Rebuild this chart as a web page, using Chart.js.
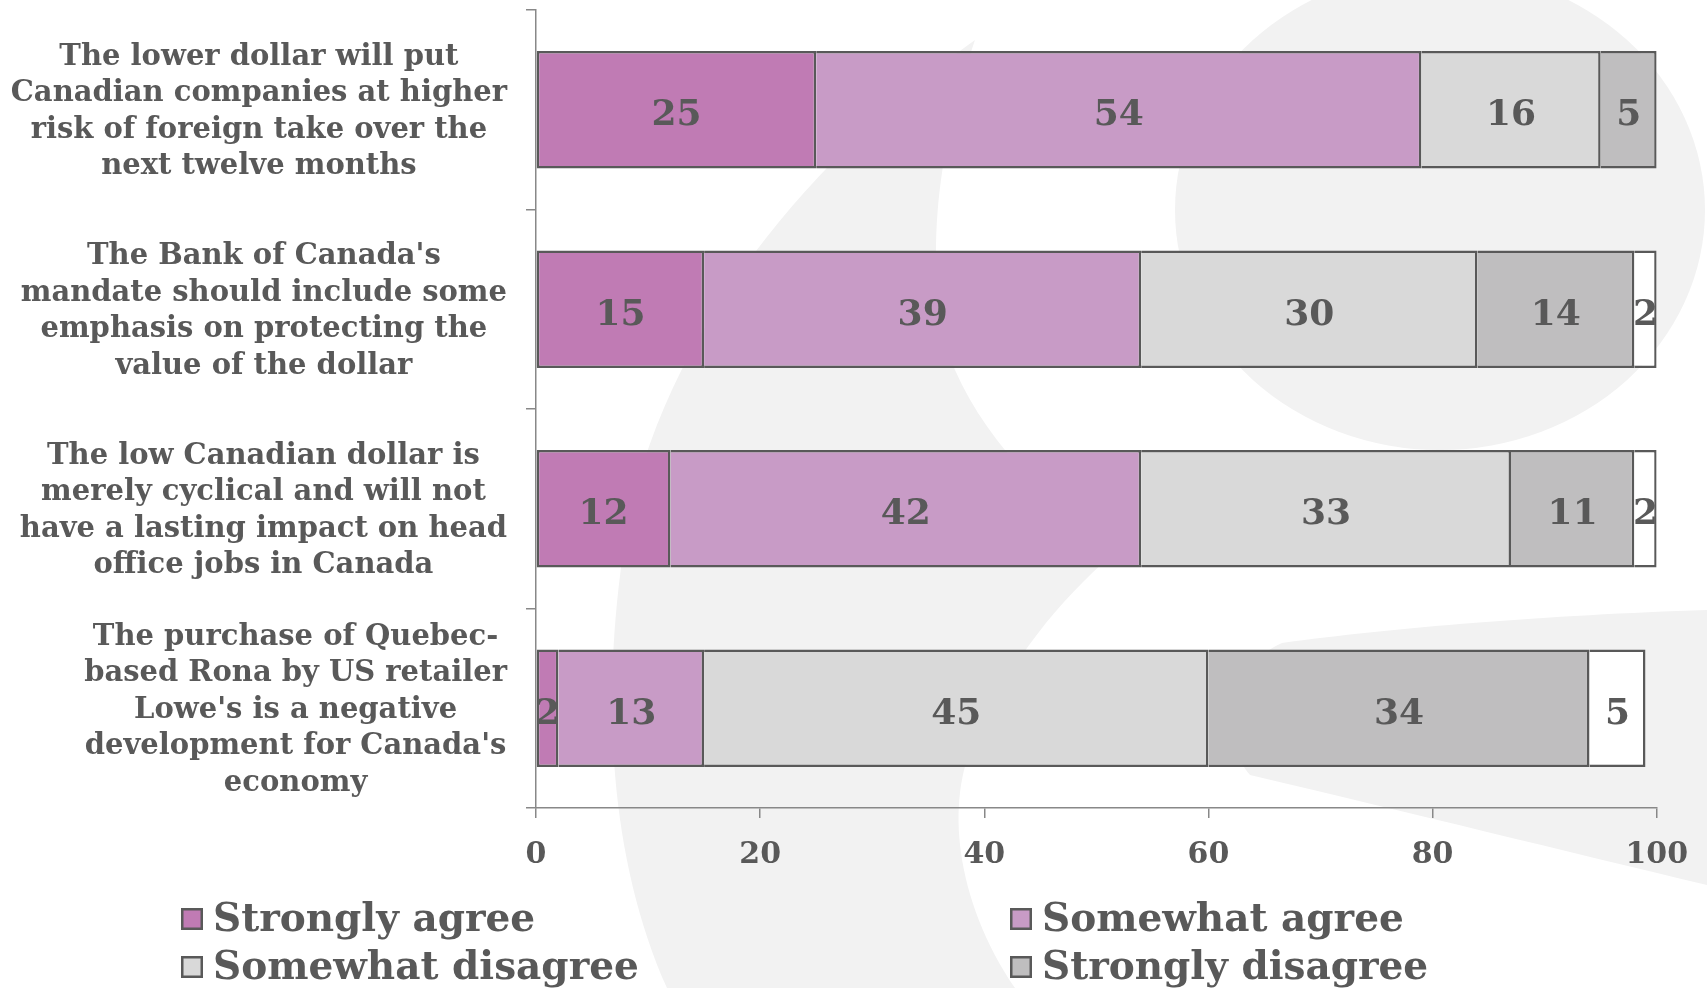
<!DOCTYPE html>
<html>
<head>
<meta charset="utf-8">
<script src="https://cdn.jsdelivr.net/npm/chart.js@4.4.1/dist/chart.umd.min.js"></script>
<style>
  html, body { margin: 0; padding: 0; background: #fff; }
</style>
</head>
<body>
<canvas id="chart" width="1707" height="988"></canvas>
<script>
const statements = [
  ["The lower dollar will put", "Canadian companies at higher", "risk of foreign take over the", "next twelve months"],
  ["The Bank of Canada's", "mandate should include some", "emphasis on protecting the", "value of the dollar"],
  ["The low Canadian dollar is", "merely cyclical and will not", "have a lasting impact on head", "office jobs in Canada"],
  ["The purchase of Quebec-", "based Rona by US retailer", "Lowe's is a negative", "development for Canada's", "economy"]
];
const stronglyAgree    = [25, 15, 12, 2];
const somewhatAgree    = [54, 39, 42, 13];
const somewhatDisagree = [16, 30, 33, 45];
const stronglyDisagree = [5, 14, 11, 34];
const dontKnow         = [0, 2, 2, 5];
const xTicks = [0, 20, 40, 60, 80, 100];

const SERIF = '"DejaVu Serif", Georgia, serif';
const INK = '#595959';
const AXIS = '#888888';

function series(label, data, color, first, inLegend) {
  return {
    label, data,
    backgroundColor: color,
    borderColor: INK,
    borderWidth: { top: 2.5, bottom: 2.5, right: 2.5, left: first ? 2.5 : 0 },
    borderSkipped: false,
    inLegend
  };
}

// faint logo shapes behind the chart
const watermark = {
  id: 'watermark',
  beforeDraw(chart) {
    const ctx = chart.ctx;
    ctx.save();
    ctx.fillStyle = '#f2f2f2';

    ctx.beginPath();
    ctx.moveTo(975, 40);
    ctx.bezierCurveTo(820, 150, 660, 330, 625, 540);
    ctx.bezierCurveTo(600, 700, 610, 860, 667, 988);
    ctx.lineTo(1015, 988);
    ctx.bezierCurveTo(955, 900, 945, 800, 975, 740);
    ctx.bezierCurveTo(1010, 660, 1060, 600, 1112, 555);
    ctx.bezierCurveTo(1060, 510, 990, 450, 955, 370);
    ctx.bezierCurveTo(925, 290, 930, 170, 975, 40);
    ctx.closePath();
    ctx.fill();

    ctx.beginPath();
    ctx.ellipse(1440, 210, 265, 240, 0, 0, Math.PI * 2);
    ctx.fill();

    ctx.beginPath();
    ctx.moveTo(1707, 610);
    ctx.bezierCurveTo(1550, 615, 1390, 628, 1282, 643);
    ctx.bezierCurveTo(1230, 665, 1220, 740, 1250, 775);
    ctx.bezierCurveTo(1420, 815, 1560, 850, 1707, 885);
    ctx.closePath();
    ctx.fill();
    ctx.restore();
  }
};

// multi-line statements, each block centred on itself and right-aligned to the axis
const categoryLabels = {
  id: 'categoryLabels',
  afterDraw(chart) {
    const ctx = chart.ctx;
    const yScale = chart.scales.y;
    const right = yScale.right - 29;
    ctx.save();
    ctx.font = 'bold 29px ' + SERIF;
    ctx.fillStyle = INK;
    ctx.textAlign = 'center';
    ctx.textBaseline = 'middle';
    chart.data.labels.forEach((lines, i) => {
      const w = Math.max(...lines.map(l => ctx.measureText(l).width));
      const cx = right - w / 2;
      const cy = yScale.getPixelForValue(i) + 2;
      lines.forEach((line, k) => {
        ctx.fillText(line, cx, cy + (k - (lines.length - 1) / 2) * 36.5);
      });
    });
    ctx.restore();
  }
};

const valueLabels = {
  id: 'valueLabels',
  afterDatasetsDraw(chart) {
    const ctx = chart.ctx;
    ctx.save();
    ctx.font = 'bold 36px ' + SERIF;
    ctx.fillStyle = INK;
    ctx.textAlign = 'center';
    ctx.textBaseline = 'middle';
    chart.data.datasets.forEach((ds, di) => {
      chart.getDatasetMeta(di).data.forEach((bar, i) => {
        const v = ds.data[i];
        if (!v) return;
        const p = bar.getProps(['x', 'y', 'base'], true);
        ctx.fillText(String(v), (p.x + p.base) / 2, p.y + 6);
      });
    });
    ctx.restore();
  }
};

// two-column legend under the axis
const gridLegend = {
  id: 'gridLegend',
  afterDraw(chart) {
    const ctx = chart.ctx;
    const cols = [181, 1010];
    const rows = [919, 967];
    ctx.save();
    ctx.font = 'bold 39px ' + SERIF;
    ctx.textBaseline = 'middle';
    ctx.textAlign = 'left';
    chart.data.datasets.filter(ds => ds.inLegend).forEach((ds, i) => {
      const x = cols[i % 2];
      const y = rows[Math.floor(i / 2)];
      ctx.fillStyle = ds.backgroundColor;
      ctx.fillRect(x, y - 11, 22, 22);
      ctx.strokeStyle = INK;
      ctx.lineWidth = 2.5;
      ctx.strokeRect(x + 1.25, y - 9.75, 19.5, 19.5);
      ctx.fillStyle = INK;
      ctx.fillText(ds.label, x + 32, y + 2);
    });
    ctx.restore();
  }
};

new Chart(document.getElementById('chart'), {
  type: 'bar',
  data: {
    labels: statements,
    datasets: [
      series('Strongly agree', stronglyAgree, '#c07bb4', true, true),
      series('Somewhat agree', somewhatAgree, '#c89bc6', false, true),
      series('Somewhat disagree', somewhatDisagree, '#d9d9d9', false, true),
      series('Strongly disagree', stronglyDisagree, '#bfbebf', false, true),
      series("Don't know", dontKnow, '#ffffff', false, false)
    ]
  },
  options: {
    indexAxis: 'y',
    responsive: false,
    animation: false,
    layout: { padding: { top: 10, right: 49, left: 0, bottom: 0 } },
    plugins: { legend: { display: false }, tooltip: { enabled: false } },
    datasets: { bar: { categoryPercentage: 1, barPercentage: 0.59 } },
    scales: {
      x: {
        type: 'linear',
        stacked: true,
        min: 0,
        max: 100,
        afterBuildTicks: s => { s.ticks = xTicks.map(v => ({ value: v })); },
        afterFit: s => { s.height = 180; },
        ticks: { color: INK, padding: 19, font: { family: SERIF, size: 30, weight: 'bold' } },
        grid: { drawOnChartArea: false, tickLength: 10, color: AXIS, lineWidth: 1.5 },
        border: { color: AXIS, width: 1.5 }
      },
      y: {
        type: 'category',
        stacked: true,
        offset: true,
        afterFit: s => { s.width = 536; },
        ticks: { display: false },
        grid: { offset: true, drawOnChartArea: false, tickLength: 10, color: AXIS, lineWidth: 1.5 },
        border: { color: AXIS, width: 1.5 }
      }
    }
  },
  plugins: [watermark, categoryLabels, valueLabels, gridLegend]
});
</script>
</body>
</html>
